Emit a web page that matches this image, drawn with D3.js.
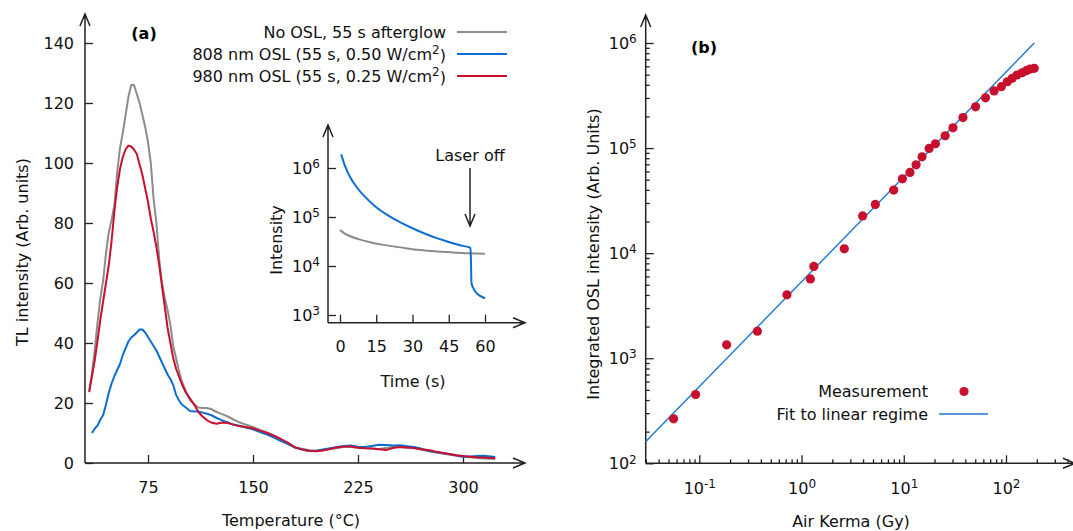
<!DOCTYPE html>
<html>
<head>
<meta charset="utf-8">
<script src="https://cdn.jsdelivr.net/npm/d3@7"></script>
<style>
body { margin: 0; background: #fff; }
svg { display: block; font-family: "DejaVu Sans", Verdana, sans-serif; }
</style>
</head>
<body>
<div id="chart"></div>
<script>
// ---- panel (a): TL glow curves ----
var tempGrid = [33,35,37,39,41,43,45,47,49,51,53,55,57,59,61,63,65,67,69,71,73,75,77,79,81,83,85,87,89,91,93,95,97,99,102,105,108,111,114,117,120,124,128,132,136,140,145,150,155,160,165,170,175,180,185,190,195,200,205,210,215,220,225,230,235,240,245,250,255,260,265,270,275,280,285,290,295,300,305,310,315,320,323];
var tlNoOsl = [24,30,38,47,55,61,70,77,81,86,97,105,110,116,122,126,126,123,120,116,112,107,100,88,80,68,60,55,51,46,39,35,31,27.5,24,21,19.5,18.5,18.3,18.3,18,17,16.3,15.5,14.5,13.6,12.8,12,11,10.2,9.1,7.8,6.6,5.3,4.7,4.3,4.1,4.3,4.7,5,5.3,5.3,5.1,5,4.8,4.7,5,5.3,5.3,5.1,5,4.5,4,3.6,3.2,2.8,2.4,2.1,1.9,1.7,1.5,1.4,1.3];
var tl808 = [null,10,11.5,12.5,14.5,16,19.5,23.5,26.5,29,31,33,36,38.2,40.5,41.8,42.6,43.5,44.5,44.5,43.5,42,40.5,39,37.5,35.5,33.5,31.5,29.5,28,26,22.8,21,19.6,18.5,17.3,17.2,17.2,16.8,16.4,16,15,14.2,13.5,12.8,12.4,11.8,11.2,10.3,9.5,8.5,7.3,6.3,5.1,4.6,4,4.1,4.5,4.9,5.3,5.7,5.8,5.4,5.3,5.7,6.1,6,5.8,5.9,5.6,5.3,4.8,4.1,3.7,3.3,3,2.6,2.1,2.2,2.3,2.4,2.2,2.0];
var tl980 = [23.6,29,34.4,41,48,54,60,66,74,84,92,98,102,104.5,105.8,105.5,104.5,103,99.5,96,91.5,87,81.5,77,72,66,59,52,45,40,35,31.5,29,26.5,23.5,21.5,19.5,17,15.5,14.3,13.5,13.1,13.5,13.3,12.8,12.3,12,11.5,10.8,10,9.1,8,6.7,5.2,4.5,4,3.9,4.2,4.7,5.2,5.5,5.5,5.1,4.9,4.8,4.6,4.3,5,5.3,5.2,5,4.6,4.3,3.8,3.4,3,2.6,2.3,2.1,1.9,1.8,1.7,1.7];
var tempTicks = [75, 150, 225, 300];
var tlTicks = [0, 20, 40, 60, 80, 100, 120, 140];
var seriesNames = ["No OSL, 55 s afterglow", "808 nm OSL (55 s, 0.50 W/cm", "980 nm OSL (55 s, 0.25 W/cm"];

// ---- inset: OSL decay ----
var timeBlue = [0.5,2,4,7,11,15,20,25,30,35,40,45,50,54,54.2,54.4,55.2,56.5,58,60];
var intBlue = [1.9e6,1.12e6,6.8e5,4.0e5,2.4e5,1.58e5,1.07e5,7.8e4,5.9e4,4.6e4,3.7e4,3.1e4,2.63e4,2.34e4,1.2e4,4.5e3,3.5e3,2.8e3,2.45e3,2.2e3];
var timeGray = [0,2,4,8,12,18,25,32,39,46,53,60];
var intGray = [5.4e4,4.6e4,4.1e4,3.5e4,3.1e4,2.7e4,2.4e4,2.14e4,2.0e4,1.9e4,1.82e4,1.78e4];
var timeTicks = [0, 15, 30, 45, 60];
var insetTicks = [1e3, 1e4, 1e5, 1e6];

// ---- panel (b): dose response ----
var dose = [0.056,0.092,0.185,0.37,0.72,1.22,1.32,2.62,3.96,5.27,7.97,9.7,11.5,13.2,15.1,17.7,20.4,25.4,30.3,37.9,50.4,63,76.5,90,103,115,128,144,158,172,189];
var oslSignal = [265,451,1340,1810,4010,5690,7470,11000,22600,29100,39800,51000,58700,69300,82600,99300,110000,131000,156000,195000,247000,301000,350000,384000,428000,461000,496000,521000,545000,565000,574000];
var fitDose = [0.0298, 189];
var fitSignal = [160, 1.0e6];
var doseTicks = [0.1, 1, 10, 100];
var signalTicks = [1e2, 1e3, 1e4, 1e5, 1e6];

var colGray = "#8c8c8c", colBlue = "#0b6fd1", colRed = "#c8102e", colAxis = "#222";

var svgWidth = 1073, svgHeight = 531;
var svg = d3.select("#chart").append("svg")
    .attr("width", svgWidth)
    .attr("height", svgHeight);

// axis line with an open arrow head at the end
function arrowLine(x1, y1, x2, y2) {
    var a = Math.atan2(y2 - y1, x2 - x1), L = 12, W = 5;
    var bx = x2 - L * Math.cos(a), by = y2 - L * Math.sin(a);
    var px = -Math.sin(a) * W, py = Math.cos(a) * W;
    svg.append("path")
        .attr("d", `M${x1},${y1}L${x2},${y2}M${bx + px},${by + py}L${x2},${y2}L${bx - px},${by - py}`)
        .attr("fill", "none").attr("stroke", colAxis).attr("stroke-width", 1.5);
}

function styleAxis(g) {
    g.select(".domain").remove();
    g.selectAll(".tick line").attr("stroke", colAxis).attr("stroke-width", 1.3);
    g.selectAll(".tick text").attr("fill", "#111").attr("font-size", 16)
        .attr("font-family", "DejaVu Sans, Verdana, sans-serif");
}

// "10" with superscript exponent
function powLabel(g) {
    g.selectAll(".tick text").each(function(d) {
        var t = d3.select(this);
        var e = Math.round(Math.log10(d));
        t.text("10");
        t.append("tspan").attr("dy", "-0.45em").attr("font-size", "12px").text(e);
    });
}

// ================= panel (a) =================
var xA = d3.scaleLinear().domain([30, 345]).range([85, 526]);
var yA = d3.scaleLinear().domain([0, 150]).range([463, 13]);

svg.append("g").attr("transform", "translate(0,463)")
    .call(d3.axisBottom(xA).tickValues(tempTicks).tickSize(-8).tickPadding(19))
    .call(styleAxis);
svg.append("g").attr("transform", "translate(85,0)")
    .call(d3.axisLeft(yA).tickValues(tlTicks).tickSize(-8).tickPadding(11))
    .call(styleAxis);
arrowLine(85, 463, 525, 463);
arrowLine(85, 463, 85, 14);

var tlLine = function(vals) {
    return d3.line()
        .defined((d, i) => vals[i] != null)
        .x((d, i) => xA(tempGrid[i]))
        .y((d, i) => yA(vals[i]))(vals);
};
[[tlNoOsl, colGray], [tl808, colBlue], [tl980, colRed]].forEach(function(s) {
    svg.append("path").attr("d", tlLine(s[0]))
        .attr("fill", "none").attr("stroke", s[1]).attr("stroke-width", 2)
        .attr("stroke-linejoin", "round");
});

svg.append("text").attr("x", 144).attr("y", 33).attr("dy", "0.35em")
    .attr("text-anchor", "middle").attr("font-size", 16).attr("font-weight", "bold").text("(a)");

var legY = [32, 54, 76], legCols = [colGray, colBlue, colRed];
seriesNames.forEach(function(name, i) {
    var t = svg.append("text").attr("x", 446).attr("y", legY[i]).attr("dy", "0.35em")
        .attr("text-anchor", "end").attr("font-size", 16).attr("fill", "#111").text(name);
    if (i > 0) {
        t.append("tspan").attr("dy", "-0.45em").attr("font-size", "12px").text("2");
        t.append("tspan").attr("dy", "0.45em").text(")");
    }
    svg.append("line").attr("x1", 457).attr("x2", 507).attr("y1", legY[i]).attr("y2", legY[i])
        .attr("stroke", legCols[i]).attr("stroke-width", 2);
});

svg.append("text").attr("transform", "translate(22,252) rotate(-90)").attr("dy", "0.35em")
    .attr("text-anchor", "middle").attr("font-size", 16).attr("fill", "#111")
    .text("TL intensity (Arb. units)");
svg.append("text").attr("x", 291).attr("y", 520).attr("dy", "0.35em")
    .attr("text-anchor", "middle").attr("font-size", 16).attr("fill", "#111")
    .text("Temperature (°C)");

// ================= inset =================
var xI = d3.scaleLinear().domain([0, 60]).range([340, 485]);
var yI = d3.scaleLog().domain([1e3, 1e6]).range([315, 168]);

svg.append("g").attr("transform", "translate(0,322.7)")
    .call(d3.axisBottom(xI).tickValues(timeTicks).tickSize(-8).tickPadding(18))
    .call(styleAxis);
svg.append("g").attr("transform", "translate(328,0)")
    .call(d3.axisLeft(yI).tickValues(insetTicks).tickSize(-8).tickPadding(8))
    .call(styleAxis).call(powLabel);
arrowLine(328, 322.7, 525, 322.7);
arrowLine(328, 322.7, 328, 125);

svg.append("path")
    .attr("d", d3.line().curve(d3.curveMonotoneX).x((d, i) => xI(timeGray[i])).y(d => yI(d))(intGray))
    .attr("fill", "none").attr("stroke", colGray).attr("stroke-width", 2);
svg.append("path")
    .attr("d", d3.line().curve(d3.curveMonotoneX).x((d, i) => xI(timeBlue[i])).y(d => yI(d))(intBlue))
    .attr("fill", "none").attr("stroke", colBlue).attr("stroke-width", 2);

svg.append("text").attr("x", 470).attr("y", 155).attr("dy", "0.35em")
    .attr("text-anchor", "middle").attr("font-size", 16).attr("fill", "#111").text("Laser off");
arrowLine(470, 168, 470, 226);

svg.append("text").attr("transform", "translate(276,240) rotate(-90)").attr("dy", "0.35em")
    .attr("text-anchor", "middle").attr("font-size", 16).attr("fill", "#111").text("Intensity");
svg.append("text").attr("x", 413).attr("y", 381).attr("dy", "0.35em")
    .attr("text-anchor", "middle").attr("font-size", 16).attr("fill", "#111").text("Time (s)");

// ================= panel (b) =================
var xB = d3.scaleLog().domain([0.1, 100]).range([699.3, 1006]);
var yB = d3.scaleLog().domain([1e2, 1e6]).range([463.3, 43]);

var minorX = [], minorY = [];
[0.01, 0.1, 1, 10, 100].forEach(function(dec) {
    for (var m = 2; m <= 9; m++) {
        var v = dec * m;
        if (v > 0.0298 && v < 450) minorX.push(v);
    }
});
[1e2, 1e3, 1e4, 1e5].forEach(function(dec) {
    for (var m = 2; m <= 9; m++) minorY.push(dec * m);
});

svg.append("g").attr("transform", "translate(0,463.3)")
    .call(d3.axisBottom(xB).tickValues(minorX).tickSize(-4).tickFormat(""))
    .call(styleAxis);
svg.append("g").attr("transform", "translate(0,463.3)")
    .call(d3.axisBottom(xB).tickValues(doseTicks).tickSize(-8).tickPadding(19))
    .call(styleAxis).call(powLabel);
svg.append("g").attr("transform", "translate(645.7,0)")
    .call(d3.axisLeft(yB).tickValues(minorY).tickSize(-4).tickFormat(""))
    .call(styleAxis);
svg.append("g").attr("transform", "translate(645.7,0)")
    .call(d3.axisLeft(yB).tickValues(signalTicks).tickSize(-8).tickPadding(9))
    .call(styleAxis).call(powLabel);
arrowLine(645.7, 463.3, 1075, 463.3);
arrowLine(645.7, 463.3, 645.7, 15);

svg.append("path")
    .attr("d", d3.line().x((d, i) => xB(fitDose[i])).y(d => yB(d))(fitSignal))
    .attr("fill", "none").attr("stroke", "#1a78d4").attr("stroke-width", 1.4);

svg.append("g").selectAll("circle")
    .data(oslSignal)
    .enter().append("circle")
    .attr("cx", (d, i) => xB(dose[i]))
    .attr("cy", d => yB(d))
    .attr("r", 4.6)
    .attr("fill", colRed);

svg.append("text").attr("x", 704).attr("y", 47).attr("dy", "0.35em")
    .attr("text-anchor", "middle").attr("font-size", 16).attr("font-weight", "bold").text("(b)");

svg.append("text").attr("x", 928).attr("y", 391.5).attr("dy", "0.35em")
    .attr("text-anchor", "end").attr("font-size", 16).attr("fill", "#111").text("Measurement");
svg.append("circle").attr("cx", 964).attr("cy", 391.5).attr("r", 4.6).attr("fill", colRed);
svg.append("text").attr("x", 928).attr("y", 414).attr("dy", "0.35em")
    .attr("text-anchor", "end").attr("font-size", 16).attr("fill", "#111").text("Fit to linear regime");
svg.append("line").attr("x1", 939).attr("x2", 988).attr("y1", 414).attr("y2", 414)
    .attr("stroke", "#1a78d4").attr("stroke-width", 1.4);

svg.append("text").attr("transform", "translate(593,254) rotate(-90)").attr("dy", "0.35em")
    .attr("text-anchor", "middle").attr("font-size", 16).attr("fill", "#111")
    .text("Integrated OSL intensity (Arb. Units)");
svg.append("text").attr("x", 851).attr("y", 521).attr("dy", "0.35em")
    .attr("text-anchor", "middle").attr("font-size", 16).attr("fill", "#111")
    .text("Air Kerma (Gy)");
</script>
</body>
</html>
